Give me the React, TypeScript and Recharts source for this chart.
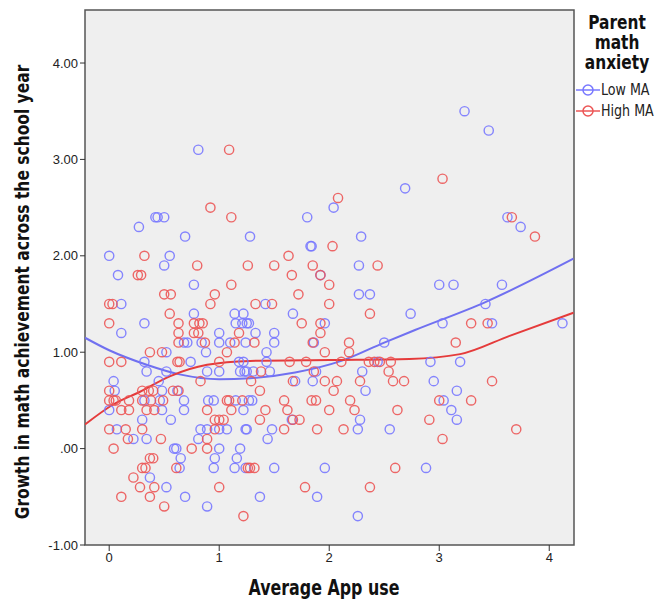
import React from 'react';
import { ComposedChart, Scatter, Line, XAxis, YAxis, ReferenceArea } from 'recharts';

// Low MA points [app use, growth]
const lowMA: Array<[number, number]> = [
  [3.23, 3.5], [3.45, 3.3], [0.81, 3.1], [2.69, 2.7], [2.04, 2.5], [0.27, 2.3], [0.42, 2.4], [0.44, 2.4],
  [0.5, 2.4], [0.69, 2.2], [1.28, 2.2], [1.8, 2.4], [1.83, 2.1], [1.84, 2.1], [2.29, 2.2], [3.62, 2.4],
  [3.74, 2.3], [0.0, 2.0], [0.55, 2.0], [0.5, 1.9], [0.08, 1.8], [0.77, 1.7], [0.11, 1.5], [0.77, 1.4],
  [1.14, 1.4], [1.22, 1.4], [0.32, 1.3], [1.15, 1.3], [1.21, 1.3], [1.25, 1.3], [0.11, 1.2], [1.0, 1.2],
  [0.68, 1.1], [0.71, 1.1], [0.84, 1.1], [1.0, 1.1], [1.1, 1.1], [1.24, 1.1], [0.52, 1.0], [0.88, 1.0],
  [0.32, 0.9], [0.74, 0.9], [1.18, 0.9], [1.22, 0.9], [0.34, 0.8], [0.52, 0.8], [0.89, 0.8], [1.0, 0.8],
  [1.19, 0.8], [1.23, 0.8], [0.04, 0.7], [0.45, 0.7], [0.05, 0.6], [0.48, 0.6], [0.62, 0.6],
  [0.32, 0.5], [0.46, 0.5], [0.68, 0.5], [0.9, 0.5], [0.95, 0.5], [1.15, 0.5], [1.27, 0.5],
  [0.0, 0.4], [0.48, 0.4], [0.68, 0.4], [1.22, 0.4], [0.3, 0.3], [0.56, 0.3],
  [0.07, 0.2], [0.83, 0.2], [0.89, 0.2], [1.0, 0.2], [1.07, 0.2], [1.24, 0.2],
  [0.22, 0.1], [0.34, 0.1], [0.81, 0.1], [0.59, 0.0], [0.61, 0.0], [1.0, 0.0], [1.19, 0.0],
  [0.65, -0.1], [0.96, -0.1], [1.16, -0.1], [0.64, -0.2], [0.95, -0.2], [1.14, -0.2], [1.24, -0.2],
  [0.37, -0.3], [0.52, -0.4], [0.69, -0.5], [0.89, -0.6],
  [2.33, 0.6], [1.3, 0.5], [1.66, 0.3], [2.28, 0.3], [1.25, 0.2], [1.48, 0.2], [2.26, 0.2], [2.55, 0.2],
  [1.44, 0.1], [1.5, -0.2], [1.96, -0.2], [1.37, -0.5], [1.89, -0.5], [2.26, -0.7],
  [3.16, 0.6], [3.04, 0.5], [3.11, 0.4], [3.16, 0.3], [2.88, -0.2],
  [2.27, 1.9], [1.92, 1.8], [2.27, 1.6], [2.37, 1.6], [1.42, 1.5], [1.67, 1.4], [2.74, 1.4],
  [1.27, 1.3], [1.96, 1.3], [1.33, 1.2], [1.5, 1.2], [1.5, 1.1], [1.86, 1.1], [2.5, 1.1], [1.43, 1.0],
  [1.43, 0.9], [2.44, 0.9], [1.25, 0.8], [1.31, 0.8], [1.46, 0.8], [1.88, 0.8], [2.3, 0.8],
  [1.69, 0.7], [1.85, 0.7],
  [3.0, 1.7], [3.13, 1.7], [3.57, 1.7], [3.42, 1.5], [3.03, 1.3], [3.48, 1.3], [4.12, 1.3],
  [2.92, 0.9], [3.19, 0.9], [2.95, 0.7],
];

// High MA points [app use, growth]
const highMA: Array<[number, number]> = [
  [1.09, 3.1], [3.03, 2.8], [0.92, 2.5], [2.08, 2.6], [1.11, 2.4], [2.03, 2.1], [3.66, 2.4], [3.87, 2.2],
  [0.32, 2.0], [0.8, 1.9], [0.26, 1.8], [0.29, 1.8], [1.11, 1.7], [0.5, 1.6], [0.56, 1.6], [0.96, 1.6],
  [0.92, 1.5], [0.0, 1.5], [0.03, 1.5], [0.55, 1.4], [0.0, 1.3], [0.63, 1.3], [0.77, 1.3], [0.82, 1.3],
  [0.85, 1.3], [0.63, 1.2], [0.77, 1.2], [0.81, 1.2], [1.18, 1.2], [0.63, 1.1], [0.87, 1.1], [1.14, 1.1],
  [0.37, 1.0], [0.48, 1.0], [1.07, 1.0], [0.0, 0.9], [0.11, 0.9], [0.62, 0.9], [0.64, 0.9], [1.0, 0.9],
  [0.83, 0.7], [0.0, 0.6], [0.3, 0.6], [0.36, 0.6], [0.4, 0.6], [0.58, 0.6], [0.63, 0.6],
  [0.0, 0.5], [0.04, 0.5], [0.06, 0.5], [0.18, 0.5], [0.3, 0.5], [0.38, 0.5], [0.49, 0.5], [1.07, 0.5],
  [1.09, 0.5], [1.21, 0.5], [0.11, 0.4], [0.18, 0.4], [0.34, 0.4], [0.41, 0.4], [0.89, 0.4], [1.11, 0.4],
  [0.96, 0.3], [1.0, 0.3], [1.04, 0.3], [0.0, 0.2], [0.15, 0.2], [0.3, 0.2], [0.96, 0.2],
  [0.17, 0.1], [0.47, 0.1], [0.89, 0.1], [0.04, 0.0], [0.75, 0.0], [0.89, 0.0], [0.37, -0.1], [0.4, -0.1],
  [0.3, -0.2], [0.33, -0.2], [0.61, -0.2], [1.26, -0.2], [0.22, -0.3], [0.28, -0.4], [0.41, -0.4],
  [1.0, -0.4], [0.11, -0.5], [0.37, -0.5], [0.5, -0.6], [1.22, -0.7],
  [1.37, 0.6], [2.04, 0.6], [1.59, 0.5], [1.84, 0.5], [1.88, 0.5], [2.19, 0.5],
  [1.42, 0.4], [1.62, 0.4], [2.0, 0.4], [2.23, 0.4], [2.62, 0.4], [1.37, 0.3], [1.67, 0.3], [1.73, 0.3],
  [1.59, 0.2], [1.89, 0.2], [2.13, 0.2], [1.28, -0.2], [1.32, -0.2], [2.6, -0.2], [1.78, -0.4], [2.37, -0.4],
  [3.0, 0.5], [3.29, 0.5], [2.91, 0.3], [3.7, 0.2], [3.03, 0.1],
  [1.63, 2.0], [1.26, 1.9], [1.5, 1.9], [1.85, 1.9], [2.44, 1.9], [1.66, 1.8], [1.92, 1.8], [2.0, 1.7],
  [1.72, 1.6], [1.33, 1.5], [1.48, 1.5], [2.0, 1.5], [2.37, 1.4], [1.75, 1.3], [1.92, 1.3], [1.92, 1.2],
  [1.32, 1.1], [1.85, 1.1], [2.18, 1.1], [1.96, 1.0], [2.18, 1.0],
  [1.64, 0.9], [1.79, 0.9], [2.11, 0.9], [2.36, 0.9], [2.41, 0.9], [2.46, 0.9], [2.56, 0.9],
  [1.38, 0.8], [1.86, 0.8], [2.54, 0.8],
  [1.29, 0.7], [1.67, 0.7], [1.96, 0.7], [2.07, 0.7], [2.28, 0.7], [2.58, 0.7], [2.68, 0.7],
  [3.29, 1.3], [3.44, 1.3], [3.15, 1.1], [3.48, 0.7],
];

// fit lines
const lowFitX = [-0.22, 0, 0.34, 0.64, 1.0, 1.28, 1.69, 2.11, 2.5, 2.78, 3.42, 4.22];
const lowFitY = [1.15, 1.02, 0.87, 0.77, 0.72, 0.73, 0.79, 0.91, 1.1, 1.23, 1.52, 1.97];
const highFitX = [-0.22, 0.04, 0.28, 0.55, 0.89, 1.28, 2.0, 2.73, 3.19, 3.64, 4.22];
const highFitY = [0.25, 0.46, 0.59, 0.75, 0.87, 0.91, 0.92, 0.93, 0.98, 1.17, 1.41];

const xTicks = [0, 1, 2, 3, 4];
const yTicks = [-1, 0, 1, 2, 3, 4];
const legendTitle = ['Parent', 'math', 'anxiety'];

const BLUE = '#7878ff';
const RED = '#ec5656';
const NARROW = "'Liberation Sans Narrow', 'DejaVu Sans Condensed', 'DejaVu Sans', sans-serif";

const toPts = (arr: Array<[number, number]>) => arr.map(([x, y]) => ({ x, y }));
const toLine = (xs: number[], ys: number[]) => xs.map((x, i) => ({ x, y: ys[i] }));

const ring = (color: string) => (props: any) => (
  <circle cx={props.cx} cy={props.cy} r={4.6} fill="none" stroke={color} strokeWidth={1.4} strokeOpacity={0.9} />
);

const fmtY = (v: number) => (v === 0 ? '.00' : v.toFixed(2));

const LegendItem = ({ color, label, top }: { color: string; label: string; top: number }) => (
  <div style={{ position: 'absolute', left: 576, top, display: 'flex', alignItems: 'center', height: 20, whiteSpace: 'nowrap' }}>
    <svg width={24} height={14} style={{ flexShrink: 0 }}>
      <line x1={0} y1={7} x2={24} y2={7} stroke={color} strokeWidth={1.5} />
      <circle cx={12} cy={7} r={5} fill="none" stroke={color} strokeWidth={1.5} />
    </svg>
    <span
      style={{
        fontFamily: NARROW,
        fontSize: 16,
        lineHeight: '18px',
        color: '#222',
        marginLeft: 1,
        display: 'inline-block',
        whiteSpace: 'nowrap',
        transform: 'scaleX(0.88)',
        transformOrigin: 'left center',
      }}
    >
      {label}
    </span>
  </div>
);

const App: React.FC = () => {
  return (
    <div style={{ position: 'absolute', left: 0, top: 0, width: 658, height: 601, background: 'white' }}>
      <ComposedChart width={658} height={601} margin={{ top: 10, right: 84, bottom: 0, left: 0 }}>
        <XAxis
          type="number"
          dataKey="x"
          domain={[-0.22, 4.225]}
          ticks={xTicks}
          allowDataOverflow
          axisLine={false}
          tickSize={6}
          tickLine={{ stroke: '#333' }}
          tick={{ fill: '#222', fontSize: 13, fontFamily: 'Liberation Sans, Arial, sans-serif' }}
          height={56}
        />
        <YAxis
          type="number"
          dataKey="y"
          domain={[-1, 4.55]}
          ticks={yTicks}
          allowDataOverflow
          axisLine={false}
          tickSize={5}
          tickLine={{ stroke: '#333' }}
          tickFormatter={fmtY}
          tick={{ fill: '#222', fontSize: 13, fontFamily: 'Liberation Sans, Arial, sans-serif' }}
          width={85}
        />
        <ReferenceArea x1={-0.22} x2={4.225} y1={-1} y2={4.55} fill="#efefef" fillOpacity={1} stroke="#555" strokeWidth={1.5} ifOverflow="extendDomain" />
        <Scatter data={toPts(lowMA)} dataKey="y" shape={ring(BLUE)} isAnimationActive={false} />
        <Scatter data={toPts(highMA)} dataKey="y" shape={ring(RED)} isAnimationActive={false} />
        <Line data={toLine(lowFitX, lowFitY)} dataKey="y" type="monotone" stroke="#7070f0" strokeWidth={2} dot={false} isAnimationActive={false} />
        <Line data={toLine(highFitX, highFitY)} dataKey="y" type="monotone" stroke="#e53b3b" strokeWidth={2} dot={false} isAnimationActive={false} />
      </ComposedChart>

      <div
        style={{
          position: 'absolute',
          left: 22,
          top: 292,
          transform: 'translate(-50%, -50%) rotate(-90deg) scaleX(0.86)',
          whiteSpace: 'nowrap',
          fontFamily: NARROW,
          fontWeight: 700,
          fontSize: 20,
          color: '#111',
        }}
      >
        Growth in math achievement across the school year
      </div>
      <div
        style={{
          position: 'absolute',
          left: 324,
          top: 588,
          transform: 'translate(-50%, -50%) scaleX(0.84)',
          whiteSpace: 'nowrap',
          fontFamily: NARROW,
          fontWeight: 700,
          fontSize: 21,
          color: '#111',
        }}
      >
        Average App use
      </div>

      {legendTitle.map((t, i) => (
        <div
          key={t}
          style={{
            position: 'absolute',
            left: 576,
            top: 12 + i * 20,
            width: 82,
            height: 20,
            textAlign: 'center',
            fontFamily: NARROW,
            fontWeight: 700,
            fontSize: 19,
            lineHeight: '20px',
            color: '#111',
            transform: 'scaleX(0.9)',
            transformOrigin: '41px 0',
          }}
        >
          {t}
        </div>
      ))}
      <LegendItem color={BLUE} label="Low MA" top={80} />
      <LegendItem color={RED} label="High MA" top={101} />
    </div>
  );
};

export default App;
